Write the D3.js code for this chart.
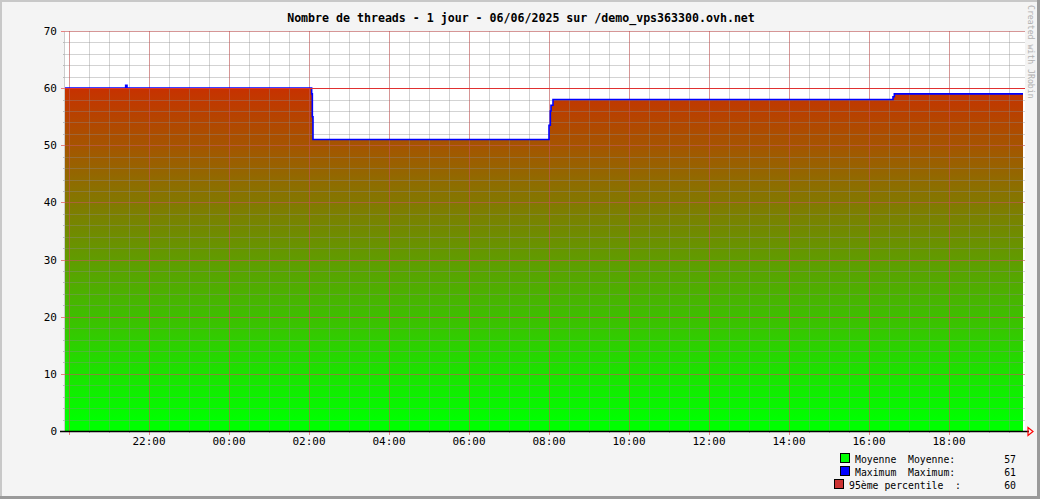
<!DOCTYPE html>
<html><head><meta charset="utf-8">
<script src="https://cdn.jsdelivr.net/npm/d3@7"></script>
<style>
html,body{margin:0;padding:0;background:#f4f4f4;}
svg{display:block;}
text{font-family:"DejaVu Sans Mono",monospace;}
</style></head>
<body>
<script>
// ---- data ----
const title = "Nombre de threads - 1 jour - 06/06/2025 sur /demo_vps363300.ovh.net";
const rangeStart = "2025-06-05 19:54";
const rangeEnd = "2025-06-06 19:54";
const times = ["2025-06-05 19:54","2025-06-05 21:25","2025-06-05 21:27","2025-06-06 02:03","2025-06-06 02:04","2025-06-06 02:05","2025-06-06 02:06","2025-06-06 08:00","2025-06-06 08:02","2025-06-06 08:03","2025-06-06 08:06","2025-06-06 16:36","2025-06-06 16:38","2025-06-06 19:51"];
const avgValues = [60,60,60,60,59,55,51,53.5,56,57,58,58.5,59,59];
const maxValues = [60,60.5,60,60,59,55,51,53.5,56,57,58,58.5,59,59];
const percentile95 = 60;
const yTicks = [0,10,20,30,40,50,60,70];
const legendNames = ["Moyenne","Maximum","95ème percentile"];
const legendLabels = ["Moyenne:","Maximum:",":"];
const legendValues = ["57","61","60"];
const legendColors = ["#00ff00","#0000ff","#cc3333"];

// ---- layout ----
const W=1040,H=499;
const parse = d3.timeParse("%Y-%m-%d %H:%M");
const t0 = parse(rangeStart), t1 = parse(rangeEnd);
const x = d3.scaleTime().domain([t0,t1]).range([65,1025]);
const y = d3.scaleLinear().domain([0,70]).range([431,31]);
const data = times.map((t,i)=>({t:parse(t),avg:avgValues[i],max:maxValues[i]}));

const svg = d3.select("body").append("svg").attr("width",W).attr("height",H);
// frame
svg.append("rect").attr("x",0).attr("y",0).attr("width",W).attr("height",H).attr("fill","#f4f4f4");
svg.append("path").attr("d",`M1,${H} V1 H${W}`).attr("stroke","#c8c8c8").attr("stroke-width",2).attr("fill","none");
svg.append("path").attr("d",`M0,${H-1.5} H${W-1.5} V0`).attr("stroke","#9a9a9a").attr("stroke-width",3).attr("fill","none");

// plot bg
svg.append("rect").attr("x",65).attr("y",31).attr("width",960).attr("height",400).attr("fill","#ffffff");

// gradient
const defs = svg.append("defs");
const grad = defs.append("linearGradient").attr("id","g").attr("gradientUnits","userSpaceOnUse")
  .attr("x1",0).attr("x2",0).attr("y1",y(2)).attr("y2",y(66));
grad.append("stop").attr("offset","0%").attr("stop-color","rgb(0,255,0)");
grad.append("stop").attr("offset","100%").attr("stop-color","rgb(220,28,0)");

// area
const area = d3.area().x(d=>x(d.t)).y0(y(0)).y1(d=>y(d.avg)).curve(d3.curveStepAfter);
svg.append("path").datum(data).attr("d",area).attr("fill","url(#g)");

// grid
const minorX = d3.timeMinute.every(30).range(t0,t1);
const majorX = d3.timeHour.every(2).range(t0,t1);
const g = svg.append("g");
const minorY = d3.range(0,71,2);
g.selectAll(".mx").data(minorX).enter().append("line")
  .attr("x1",d=>Math.round(x(d))+0.5).attr("x2",d=>Math.round(x(d))+0.5).attr("y1",31).attr("y2",431)
  .attr("stroke","rgba(140,140,140,0.38)");
g.selectAll(".my").data(minorY).enter().append("line")
  .attr("x1",65).attr("x2",1025).attr("y1",d=>Math.round(y(d))+0.5).attr("y2",d=>Math.round(y(d))+0.5)
  .attr("stroke","rgba(140,140,140,0.38)");
g.selectAll(".Mx").data(majorX).enter().append("line")
  .attr("x1",d=>Math.round(x(d))+0.5).attr("x2",d=>Math.round(x(d))+0.5).attr("y1",31).attr("y2",431)
  .attr("stroke","rgba(220,60,60,0.4)");
g.selectAll(".My").data(yTicks).enter().append("line")
  .attr("x1",65).attr("x2",1025).attr("y1",d=>Math.round(y(d))+0.5).attr("y2",d=>Math.round(y(d))+0.5)
  .attr("stroke","rgba(220,60,60,0.4)");
// left edge
svg.append("line").attr("x1",64.5).attr("x2",64.5).attr("y1",31).attr("y2",431).attr("stroke","#cccccc");

// y ticks
svg.selectAll(".ymt").data(minorY).enter().append("line")
  .attr("x1",63).attr("x2",65).attr("y1",d=>Math.round(y(d))+0.5).attr("y2",d=>Math.round(y(d))+0.5)
  .attr("stroke","#bbbbbb");
svg.selectAll(".yMt").data(yTicks).enter().append("line")
  .attr("x1",61).attr("x2",65).attr("y1",d=>Math.round(y(d))+0.5).attr("y2",d=>Math.round(y(d))+0.5)
  .attr("stroke","#e88080");
svg.selectAll(".yl").data(yTicks).enter().append("text")
  .attr("x",57).attr("y",d=>y(d)+4).attr("text-anchor","end").attr("font-size","11px").attr("fill","#000")
  .text(d=>d);

// x ticks
svg.selectAll(".xmt").data(minorX).enter().append("line")
  .attr("x1",d=>Math.round(x(d))+0.5).attr("x2",d=>Math.round(x(d))+0.5).attr("y1",431).attr("y2",433)
  .attr("stroke","#bbbbbb");
svg.selectAll(".xMt").data(majorX).enter().append("line")
  .attr("x1",d=>Math.round(x(d))+0.5).attr("x2",d=>Math.round(x(d))+0.5).attr("y1",431).attr("y2",435)
  .attr("stroke","#e88080");
svg.selectAll(".xl").data(majorX.slice(1)).enter().append("text")
  .attr("x",d=>x(d)).attr("y",445).attr("text-anchor","middle").attr("font-size","11px").attr("fill","#000")
  .text(d3.timeFormat("%H:%M"));

// max line
const line = d3.line().x(d=>x(d.t)).y(d=>y(d.max)).curve(d3.curveStepAfter);
svg.append("path").datum(data).attr("d",line).attr("fill","none").attr("stroke","#0000ff").attr("stroke-width",1.6);
// percentile line
svg.append("line").attr("x1",65).attr("x2",1025).attr("y1",Math.round(y(percentile95))+0.5).attr("y2",Math.round(y(percentile95))+0.5)
  .attr("stroke","#e03030").attr("stroke-width",1.2);

// x axis
svg.append("line").attr("x1",60).attr("x2",1029).attr("y1",431.5).attr("y2",431.5).attr("stroke","#000").attr("stroke-width",1.5);
svg.append("path").attr("d","M1028,427.5 L1033,431.5 L1028,435.5 Z").attr("fill","none").attr("stroke","#ff0000").attr("stroke-width",1.2);

// title
svg.append("text").attr("x",521).attr("y",22).attr("text-anchor","middle").attr("font-size","11.6px").attr("font-weight","bold").attr("fill","#000").text(title);

// credit
svg.append("text").attr("transform","translate(1028,5) rotate(90)").attr("font-size","8.2px").attr("fill","#b0b0b0").text("Created with JRobin");

// legend
const ly = [459,472,485];
const lg = svg.append("g");
legendNames.forEach((n,i)=>{
  const bx = i===2?834:840;
  lg.append("rect").attr("x",bx+0.5).attr("y",ly[i]-5.5).attr("width",9).attr("height",9).attr("fill",legendColors[i]).attr("stroke","#000");
  lg.append("text").attr("x",i===2?849:855).attr("y",ly[i]+3.5).attr("font-size","9.8px").text(n);
  lg.append("text").attr("x",i===2?955:908).attr("y",ly[i]+3.5).attr("font-size","9.8px").text(legendLabels[i]);
  lg.append("text").attr("x",1016).attr("y",ly[i]+3.5).attr("text-anchor","end").attr("font-size","9.8px").text(legendValues[i]);
});
</script>
</body></html>
